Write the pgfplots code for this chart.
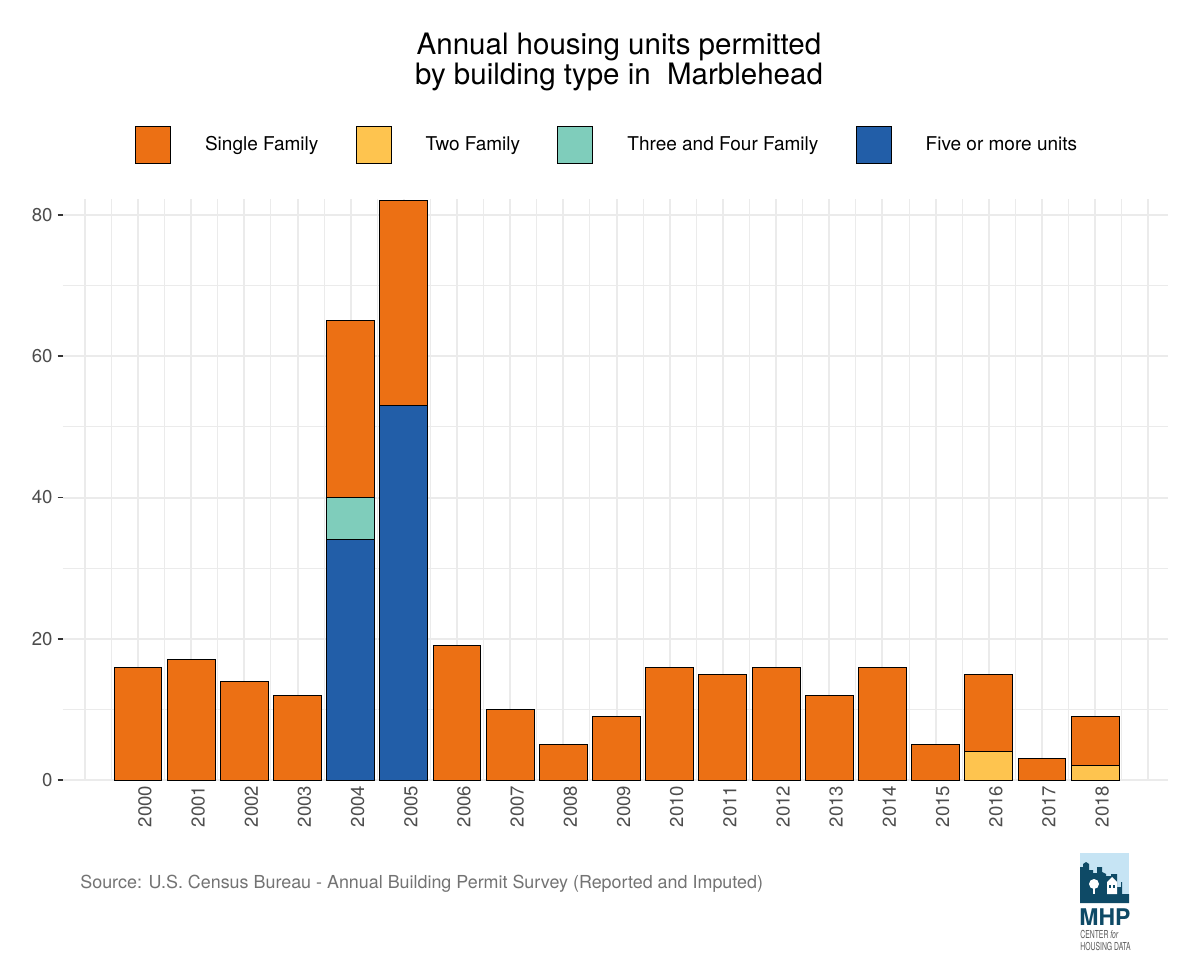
\documentclass[border=0pt]{standalone}
\usepackage{pgfplots}
\pgfplotsset{compat=1.18}
\usepackage{pgfplotstable}
\usepackage{graphicx}
\usepackage{fontspec}
\setmainfont{TeX Gyre Heros}
\definecolor{sfam}{HTML}{EC7014}
\definecolor{twofam}{HTML}{FEC44F}
\definecolor{threefam}{HTML}{7FCDBB}
\definecolor{fivefam}{HTML}{225EA8}
\definecolor{gridc}{HTML}{EBEBEB}
\definecolor{tickc}{HTML}{4D4D4D}
\definecolor{logoblue}{HTML}{C6E4F4}
\definecolor{logoteal}{HTML}{0E4A66}
\definecolor{logogrey}{HTML}{5A5A5A}

\pgfplotstableread{
year five three two single
2000 0 0 0 16
2001 0 0 0 17
2002 0 0 0 14
2003 0 0 0 12
2004 34 6 0 25
2005 53 0 0 29
2006 0 0 0 19
2007 0 0 0 10
2008 0 0 0 5
2009 0 0 0 9
2010 0 0 0 16
2011 0 0 0 15
2012 0 0 0 16
2013 0 0 0 12
2014 0 0 0 16
2015 0 0 0 5
2016 0 0 4 11
2017 0 0 0 3
2018 0 0 2 7
}\permits

\pgfplotsset{
  keybox/.style={legend image code/.code={%
    \draw[##1,draw=black,line width=0.5pt] (0pt,-9.25pt) rectangle (17.5pt,9.25pt);}},
}

\begin{document}
\begin{tikzpicture}
\path[use as bounding box,fill=white] (0pt,0pt) rectangle (600pt,480pt);

\begin{axis}[
  at={(31.5pt,90pt)}, anchor=south west,
  scale only axis, width=552.5pt, height=290.6pt,
  xmin=1998.59, xmax=2019.37, ymin=0, ymax=82.3,
  ybar stacked, bar width=0.9,
  axis line style={draw=none},
  xtick={1999,2000,...,2019},
  xticklabels={{},2000,2001,2002,2003,2004,2005,2006,2007,2008,2009,2010,2011,2012,2013,2014,2015,2016,2017,2018,{}},
  minor xtick={1999.5,2000.5,...,2018.5},
  ytick={0,20,40,60,80},
  minor ytick={10,30,50,70},
  grid=both,
  major grid style={line width=1pt, draw=gridc},
  minor grid style={line width=0.5pt, draw=gridc},
  tick align=outside, tick pos=left,
  major tick length=2.75pt, minor tick length=0pt,
  xtick style={draw=none},
  ytick style={draw=black!80, line width=0.8pt},
  /pgf/number format/assume math mode=true,
  tick label style={font=\fontsize{9.3}{10}\selectfont, text=tickc},
  xticklabel style={rotate=90, anchor=east, inner sep=0pt, yshift=-3.5pt},
  yticklabel style={inner sep=0pt, xshift=-2.3pt},
  legend columns=4, reverse legend,
  legend style={at={(0.0652,1.0926)}, anchor=west, draw=none, fill=none,
    inner sep=0pt, outer sep=0pt,
    nodes={inner sep=0pt, font=\fontsize{9.5}{10}\selectfont},
    /tikz/every odd column/.append style={column sep=17pt},
    /tikz/every even column/.append style={column sep=18.7pt}},
]
\addplot[fill=fivefam, draw=black, line width=0.5pt, keybox] table[x=year,y=five] {\permits};
\addplot[fill=threefam, draw=black, line width=0.5pt, keybox] table[x=year,y=three] {\permits};
\addplot[fill=twofam, draw=black, line width=0.5pt, keybox] table[x=year,y=two] {\permits};
\addplot[fill=sfam, draw=black, line width=0.5pt, keybox] table[x=year,y=single] {\permits};
\legend{Five or more units, Three and Four Family, Two Family, Single Family}
\end{axis}

% title
\node[align=center, font=\fontsize{14.75}{15.2}\selectfont] at (309.5pt,449pt)
  {Annual housing units permitted\\by building type in\ \ Marblehead};

% caption
\node[anchor=west, inner sep=0pt, text=black!55, font=\fontsize{8.95}{9}\selectfont] at (40pt,38pt)
  {Source: U.S. Census Bureau - Annual Building Permit Survey (Reported and Imputed)};

% logo
\begin{scope}[x=0.5pt,y=0.5pt]
\fill[logoblue] (1080,57) rectangle (1129,107);
\fill[logoteal] (1080,57) -- (1080,93) -- (1083,93) -- (1083,96) -- (1086,98) -- (1089,96) -- (1089,90)
  -- (1093,90) -- (1093,87) -- (1097,87) -- (1097,93) -- (1102,93) -- (1102,88) -- (1106,86) -- (1106,84)
  -- (1111,84) -- (1111,86) -- (1117,86) -- (1117,73) -- (1121,73) -- (1121,78) -- (1122,78) -- (1122,66)
  -- (1129,66) -- (1129,57) -- cycle;
\fill[white] (1094,76) circle (5);
\fill[white] (1093,66) rectangle (1095,76);
\fill[white] (1107,66) -- (1107,78) -- (1112,83) -- (1117,78) -- (1117,66) -- cycle;
\fill[logoteal] (1109,72) rectangle (1111,75);
\fill[logoteal] (1113,72) rectangle (1115,75);
\node[text=logoteal, font=\bfseries\fontsize{11.5}{12}\selectfont, inner sep=0pt, anchor=west] at (1079,43) {MHP};
\node[text=logogrey, inner sep=0pt, anchor=west] at (1080,26) {\scalebox{0.62}[1]{\fontsize{5.5}{6}\selectfont CENTER \itshape for}};
\node[text=logogrey, inner sep=0pt, anchor=west] at (1080,14) {\scalebox{0.62}[1]{\fontsize{5.5}{6}\selectfont HOUSING DATA}};
\end{scope}
\end{tikzpicture}
\end{document}
